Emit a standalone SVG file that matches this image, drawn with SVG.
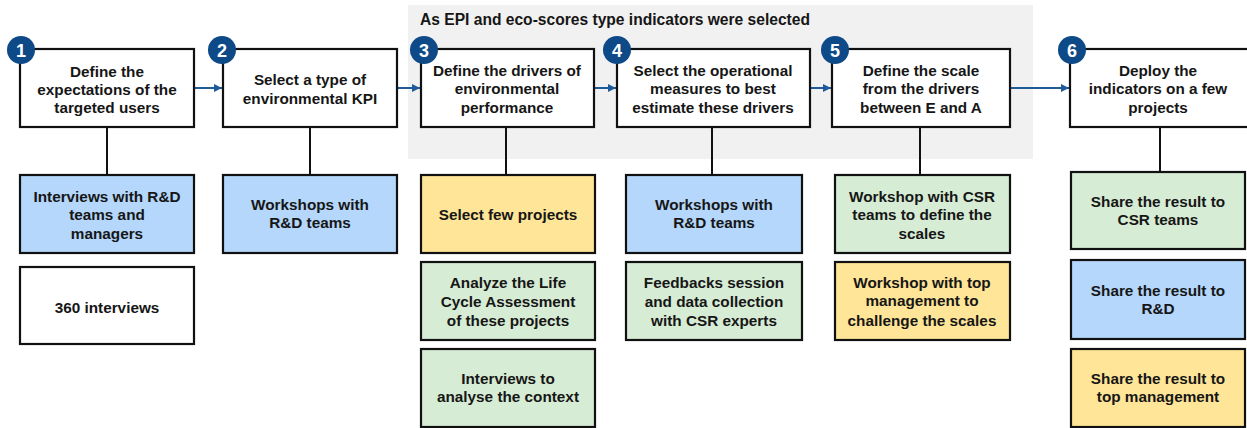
<svg xmlns="http://www.w3.org/2000/svg" width="1247" height="428" viewBox="0 0 1247 428">
<style>
.box{stroke:#111;stroke-width:2.2}
.main{fill:#fff}
.blue{fill:#b4d7fb}
.yellow{fill:#ffe597}
.green{fill:#d6ecd5}
.white{fill:#fff}
text{font-family:"Liberation Sans",Arial,sans-serif;font-weight:bold;font-size:15.3px;fill:#161616;text-anchor:middle}
.title{font-size:15.6px}
.num{fill:#fff;font-size:18px}
.badge{fill:#0e4a88}
.link{stroke:#111;stroke-width:2;fill:none}
.flow{stroke:#1f5a99;stroke-width:2;fill:none}
</style>
<defs>
<marker id="ah" markerUnits="userSpaceOnUse" markerWidth="9" markerHeight="9" refX="8" refY="4.5" orient="auto">
<path d="M0,0.5 L8,4.5 L0,8.5 z" fill="#1f5a99"/>
</marker>
</defs>
<rect id="background" x="408" y="5" width="625" height="154" fill="#f1f1f1"/>
<text class="title" x="615" y="25">As EPI and eco-scores type indicators were selected</text>

<g id="connectors">
<line class="flow" x1="195" y1="88" x2="222" y2="88" marker-end="url(#ah)"/>
<line class="flow" x1="398" y1="88" x2="420" y2="88" marker-end="url(#ah)"/>
<line class="flow" x1="595" y1="88" x2="616" y2="88" marker-end="url(#ah)"/>
<line class="flow" x1="811" y1="88" x2="831" y2="88" marker-end="url(#ah)"/>
<line class="flow" x1="1011" y1="88" x2="1069" y2="88" marker-end="url(#ah)"/>
<line class="link" x1="107" y1="127" x2="107" y2="175"/>
<line class="link" x1="310" y1="127" x2="310" y2="175"/>
<line class="link" x1="506" y1="127" x2="506" y2="175"/>
<line class="link" x1="712" y1="127" x2="712" y2="175"/>
<line class="link" x1="920" y1="127" x2="920" y2="175"/>
<line class="link" x1="1160" y1="127" x2="1160" y2="172"/>
</g>

<g id="step1">
<rect class="box main" x="20" y="49" width="174" height="78"/>
<circle class="badge" cx="21" cy="50" r="14"/>
<text class="num" x="21" y="57">1</text>
<text x="107" y="77">Define the</text>
<text x="107" y="95">expectations of the</text>
<text x="107" y="113">targeted users</text>
</g>
<g id="step2">
<rect class="box main" x="223" y="49" width="174" height="78"/>
<circle class="badge" cx="222" cy="50" r="14"/>
<text class="num" x="222" y="57">2</text>
<text x="310" y="85">Select a type of</text>
<text x="310" y="104">environmental KPI</text>
</g>
<g id="step3">
<rect class="box main" x="421" y="49" width="173" height="78"/>
<circle class="badge" cx="424" cy="50" r="14"/>
<text class="num" x="424" y="57">3</text>
<text x="507" y="76">Define the drivers of</text>
<text x="507" y="94">environmental</text>
<text x="507" y="113">performance</text>
</g>
<g id="step4">
<rect class="box main" x="617" y="49" width="193" height="78"/>
<circle class="badge" cx="617" cy="50" r="14"/>
<text class="num" x="617" y="57">4</text>
<text x="713" y="76">Select the operational</text>
<text x="713" y="94">measures to best</text>
<text x="713" y="113">estimate these drivers</text>
</g>
<g id="step5">
<rect class="box main" x="832" y="49" width="178" height="78"/>
<circle class="badge" cx="835" cy="50" r="14"/>
<text class="num" x="835" y="57">5</text>
<text x="921" y="76">Define the scale</text>
<text x="921" y="94">from the drivers</text>
<text x="921" y="113">between E and A</text>
</g>
<g id="step6">
<rect class="box main" x="1070" y="49" width="180" height="78"/>
<circle class="badge" cx="1072" cy="50" r="14"/>
<text class="num" x="1072" y="57">6</text>
<text x="1158" y="76">Deploy the</text>
<text x="1158" y="94">indicators on a few</text>
<text x="1158" y="113">projects</text>
</g>

<g id="s1a"><rect class="box blue" x="20" y="175" width="174" height="78"/>
<text x="107" y="202">Interviews with R&amp;D</text><text x="107" y="220">teams and</text><text x="107" y="239">managers</text></g>
<g id="s1b"><rect class="box white" x="20" y="267" width="174" height="77"/>
<text x="107" y="313">360 interviews</text></g>
<g id="s2a"><rect class="box blue" x="223" y="175" width="174" height="78"/>
<text x="310" y="210">Workshops with</text><text x="310" y="228">R&amp;D teams</text></g>
<g id="s3a"><rect class="box yellow" x="421" y="175" width="174" height="78"/>
<text x="508" y="220">Select few projects</text></g>
<g id="s3b"><rect class="box green" x="421" y="262" width="174" height="78"/>
<text x="508" y="288">Analyze the Life</text><text x="508" y="307">Cycle Assessment</text><text x="508" y="326">of these projects</text></g>
<g id="s3c"><rect class="box green" x="421" y="349" width="174" height="78"/>
<text x="508" y="384">Interviews to</text><text x="508" y="402">analyse the context</text></g>
<g id="s4a"><rect class="box blue" x="626" y="175" width="176" height="78"/>
<text x="714" y="210">Workshops with</text><text x="714" y="228">R&amp;D teams</text></g>
<g id="s4b"><rect class="box green" x="626" y="262" width="176" height="78"/>
<text x="714" y="288">Feedbacks session</text><text x="714" y="307">and data collection</text><text x="714" y="326">with CSR experts</text></g>
<g id="s5a"><rect class="box green" x="835" y="175" width="175" height="78"/>
<text x="922" y="202">Workshop with CSR</text><text x="922" y="220">teams to define the</text><text x="922" y="239">scales</text></g>
<g id="s5b"><rect class="box yellow" x="835" y="262" width="175" height="78"/>
<text x="922" y="288">Workshop with top</text><text x="922" y="306">management to</text><text x="922" y="326">challenge the scales</text></g>
<g id="s6a"><rect class="box green" x="1071" y="172" width="174" height="77"/>
<text x="1158" y="207">Share the result to</text><text x="1158" y="225">CSR teams</text></g>
<g id="s6b"><rect class="box blue" x="1071" y="260" width="174" height="79"/>
<text x="1158" y="296">Share the result to</text><text x="1158" y="314">R&amp;D</text></g>
<g id="s6c"><rect class="box yellow" x="1071" y="349" width="174" height="78"/>
<text x="1158" y="384">Share the result to</text><text x="1158" y="402">top management</text></g>
</svg>
